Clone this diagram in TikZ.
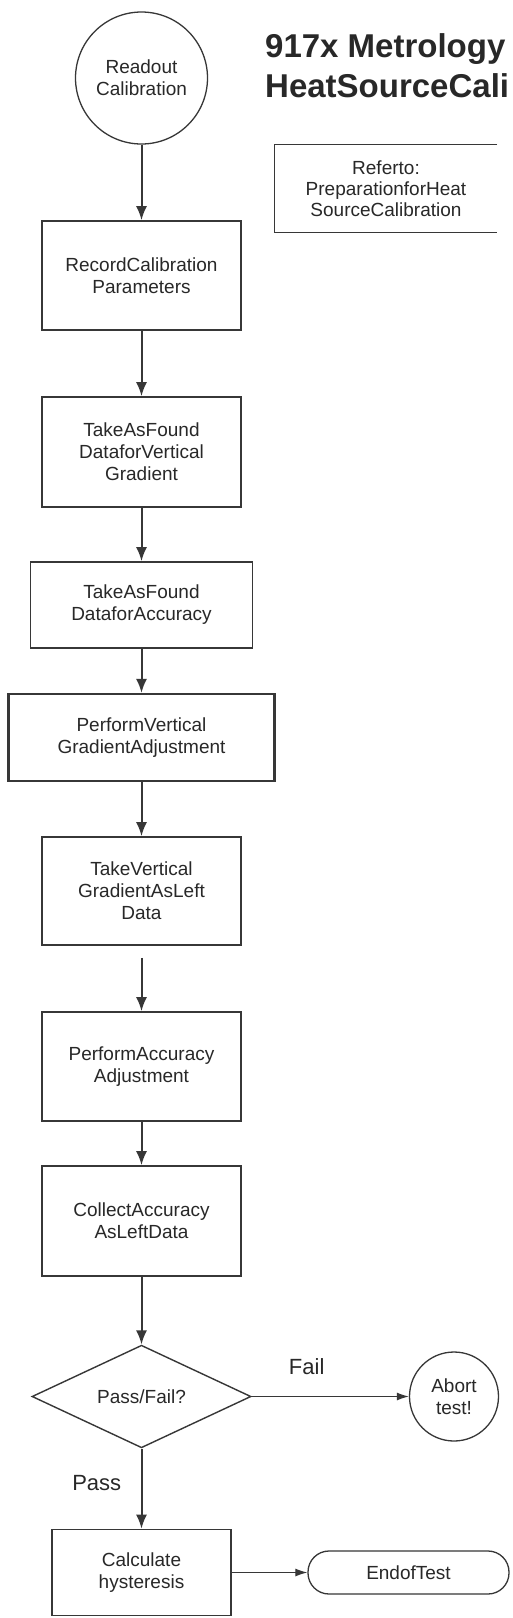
\documentclass[tikz,border=0pt]{standalone}
\usepackage{fontspec}
\setmainfont{Liberation Sans}
\usetikzlibrary{arrows.meta,positioning,shapes.geometric}
\definecolor{flowink}{RGB}{40,40,40}
\definecolor{flowline}{RGB}{55,55,55}
\tikzset{
  stepbox/.style={draw=flowline, line width=1.6pt, minimum width=199pt, minimum height=109pt,
                  align=center, inner sep=2pt, text=flowink, font=\fontsize{19}{22}\selectfont},
  endcirc/.style={circle, draw=flowline, line width=1.3pt, inner sep=0pt, align=center,
                  text=flowink, font=\fontsize{19}{22}\selectfont},
  dec/.style={diamond, draw=flowline, line width=1.4pt, minimum width=219pt, minimum height=85pt,
              inner sep=0pt, text=flowink, font=\fontsize{19}{22}\selectfont},
  term/.style={draw=flowline, line width=1.3pt, rounded corners=21pt, minimum width=201pt,
               minimum height=43pt, text=flowink, font=\fontsize{19}{22}\selectfont},
  note/.style={minimum width=222pt, minimum height=87pt, align=center, inner sep=0pt,
               text=flowink, font=\fontsize{19}{21}\selectfont},
  ttl/.style={anchor=base west, inner sep=0pt, text=flowink, font=\fontsize{33}{40}\selectfont\bfseries},
  flowarr/.style={-{Latex[length=14pt,width=11pt]}, flowline, line width=2pt},
  sidearr/.style={-{Latex[length=12pt,width=8pt]}, flowline, line width=1.1pt},
  lbl/.style={text=flowink, font=\fontsize{22}{26}\selectfont},
}
\begin{document}
\begin{tikzpicture}[x=1pt, y=-1pt]
  \fill[white] (0,0) rectangle (512,1618);
  % heading and note
  \node[ttl] (title) at (265,57) {917x Metrology};
  \node[ttl] (subtitle) at (265,97) {HeatSourceCali};
  \node[note] (ref) at (386,188.5) {Referto:\\PreparationforHeat\\SourceCalibration};
  \draw[flowline, line width=1.3pt] (ref.north east) -- (ref.north west) -- (ref.south west) -- (ref.south east);

  % main column
  \node[endcirc, minimum size=132pt] (start) at (141.5,78) {Readout\\Calibration};
  \node[stepbox] (rec) at (141.5,275.5) {RecordCalibration\\Parameters};
  \node[stepbox, minimum height=110pt] (asfvg) at (141.5,452) {TakeAsFound\\DataforVertical\\Gradient};
  \node[stepbox, minimum width=222pt, minimum height=86pt] (asfacc) at (141.5,605) {TakeAsFound\\DataforAccuracy};
  \node[stepbox, line width=2.2pt, minimum width=266pt, minimum height=87pt] (pvga) at (141.5,737.5) {PerformVertical\\GradientAdjustment};
  \node[stepbox, minimum height=108pt] (tvgal) at (141.5,891) {TakeVertical\\GradientAsLeft\\Data};
  \node[stepbox] (paa) at (141.5,1066.5) {PerformAccuracy\\Adjustment};
  \node[stepbox, minimum height=110pt] (cal) at (141.5,1221) {CollectAccuracy\\AsLeftData};
  \node[dec] (pf) at (141.5,1396.5) {Pass/Fail?};
  \node[endcirc, minimum size=89pt] (abort) at (454,1396.5) {Abort\\test!};
  \node[stepbox, minimum width=179pt, minimum height=86pt] (hyst) at (141.5,1572.5) {Calculate\\hysteresis};
  \node[term] (eot) at (408.5,1572.5) {EndofTest};

  % connectors
  \draw[flowarr] (start) -- (rec);
  \draw[flowarr] (rec) -- (asfvg);
  \draw[flowarr] (asfvg) -- (asfacc);
  \draw[flowarr] (asfacc) -- (pvga);
  \draw[flowarr] (pvga) -- (tvgal);
  \draw[flowarr, shorten <=12pt] (tvgal) -- (paa);
  \draw[flowarr] (paa) -- (cal);
  \draw[flowarr] (cal) -- (pf);
  \draw[sidearr] (pf) -- node[lbl, above=18pt, pos=0.35] {Fail} (abort);
  \draw[flowarr] (pf) -- node[lbl, left=16pt, pos=0.43] {Pass} (hyst);
  \draw[sidearr] (hyst) -- (eot);
\end{tikzpicture}
\end{document}
